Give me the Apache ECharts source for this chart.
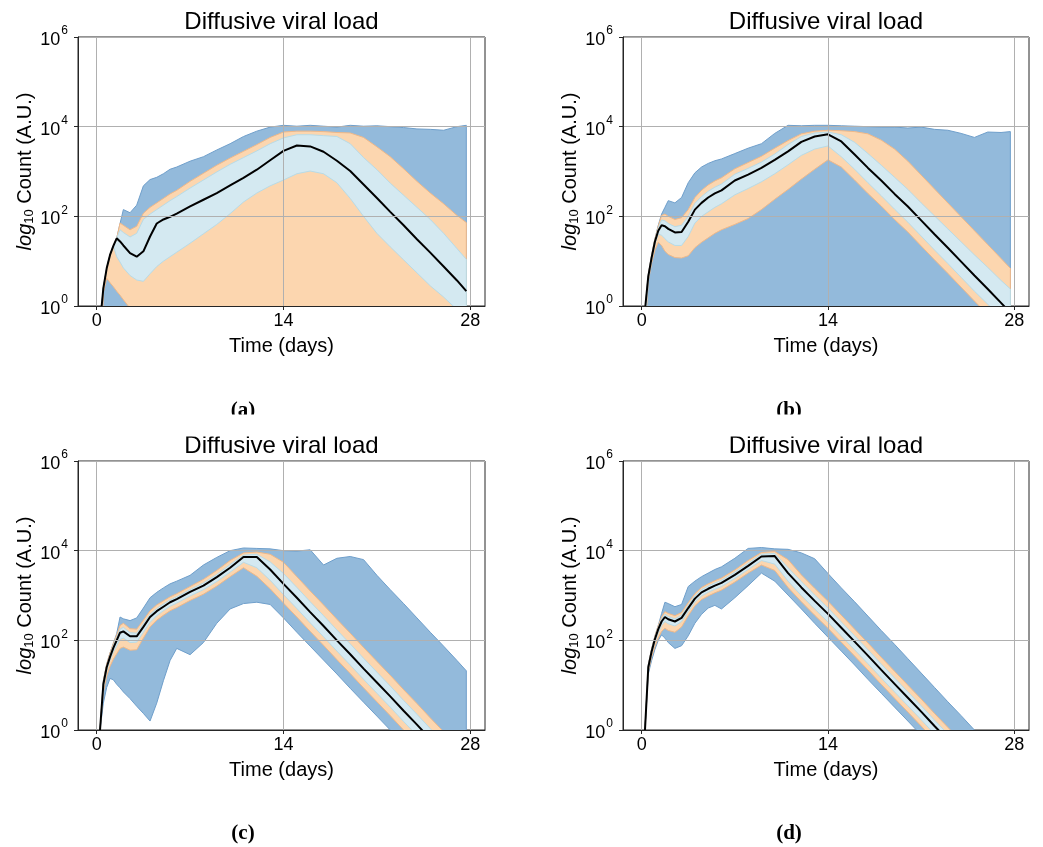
<!DOCTYPE html>
<html><head><meta charset="utf-8">
<script src="https://cdn.jsdelivr.net/npm/echarts@6/dist/echarts.min.js"></script>
<style>html,body{margin:0;padding:0;background:#fff}#c{width:1043px;height:847px}</style>
</head><body><div id="c"></div>
<script>
// ---- tick labels / texts ----
const xTicks = [0, 14, 28];
const yTicks = [0, 2, 4, 6];          // log10 exponents shown as 10^k
const titleText = 'Diffusive viral load';
const captions = ['(a)', '(b)', '(c)', '(d)'];

// ---- panel (a) : log10 counts ----
const daysA = [0.375,0.5,0.75,1,1.25,1.5,1.75,2,2.5,3,3.5,4,4.5,5,5.5,6,7,8,9,10,11,12,13,14,15,16,17,18,19,20,21,22,23,24,25,26,27,27.7];
const medA   = [0,0.40,0.84,1.14,1.34,1.51, 1.44,1.35,1.18,1.10,1.22,1.55,1.84,1.93,1.99,2.06, 2.22,2.37,2.52,2.69,2.86,3.04,3.25,3.46, 3.58,3.56,3.44,3.24,3.01,2.71,2.41,2.10, 1.80,1.49,1.19,0.88,0.57,0.33];
const blueLoA = [-1,-1,-1,-1,-1,-1, -1,-1,-1,-1,-1,-1,-1,-1,-1,-1, -1,-1,-1,-1,-1,-1,-1,-1, -1,-1,-1,-1,-1,-1,-1,-1, -1,-1,-1,-1,-1,-1];
const blueHiA = [0,0.40,0.84,1.14,1.34,1.51, 1.84,2.15,2.08,2.25,2.68,2.82,2.87,2.95,3.05,3.10, 3.23,3.33,3.48,3.62,3.78,3.90,3.99,4.03, 4.01,4.03,4.01,3.99,4.03,4.01,4.02,4.00, 3.98,3.95,3.94,3.92,4.00,4.03];
const orangeLoA = [-1,0.30,0.62,0.52,0.43,0.33, 0.24,0.14,-0.05,-0.25,-1,-1,-1,-1,-1,-1, -1,-1,-1,-1,-1,-1,-1,-1, -1,-1,-1,-1,-1,-1,-1,-1, -1,-1,-1,-1,-1,-1];
const orangeHiA = [0,0.40,0.84,1.14,1.34,1.51, 1.85,1.80,1.70,1.78,2.07,2.20,2.30,2.40,2.50,2.58, 2.78,2.96,3.14,3.30,3.45,3.60,3.76,3.88, 3.90,3.90,3.89,3.87,3.86,3.76,3.55,3.33, 3.06,2.78,2.52,2.28,2.02,1.86];
const lightLoA = [0,0.40,0.84,1.14,1.34,1.10, 0.98,0.85,0.68,0.58,0.55,0.72,0.88,1.00,1.10,1.20, 1.40,1.61,1.82,2.06,2.32,2.52,2.68,2.81, 2.95,3.01,2.95,2.75,2.40,2.00,1.62,1.32, 1.03,0.74,0.45,0.20,-0.08,-0.28];
const lightHiA = [0,0.40,0.84,1.14,1.34,1.51, 1.70,1.64,1.54,1.62,1.93,2.05,2.15,2.25,2.35,2.44, 2.63,2.81,2.99,3.16,3.31,3.46,3.62,3.75, 3.82,3.82,3.80,3.78,3.62,3.31,3.04,2.74, 2.47,2.20,1.93,1.62,1.28,1.04];

// ---- panel (b) ----
const daysB = [0.28,0.5,0.75,1,1.25,1.5,1.75,2,2.5,3,3.5,4,4.5,5,5.5,6,7,8,9,10,11,12,13,14,15,16,17,18,19,20,21,22,23,24,25,26,27,27.7];
const medB   = [0,0.66,1.08,1.44,1.68,1.80, 1.78,1.72,1.64,1.65,1.88,2.15,2.30,2.42,2.51,2.58, 2.80,2.93,3.08,3.26,3.45,3.66,3.78,3.83, 3.67,3.38,3.08,2.80,2.50,2.22,1.91,1.60, 1.30,0.99,0.68,0.38,0.07,-0.15];
const blueLoB = [-1,-1,-1,-1,-1,-1, -1,-1,-1,-1,-1,-1,-1,-1,-1,-1, -1,-1,-1,-1,-1,-1,-1,-1, -1,-1,-1,-1,-1,-1,-1,-1, -1,-1,-1,-1,-1,-1];
const blueHiB = [0,0.70,1.13,1.50,1.80,2.05, 2.20,2.35,2.30,2.42,2.75,2.97,3.10,3.18,3.24,3.28, 3.40,3.52,3.62,3.85,4.03,4.02,4.03,4.03, 4.02,4.01,4.00,3.99,3.99,3.97,3.99,3.94, 3.92,3.85,3.76,3.88,3.87,3.89];
const orangeLoB = [-0.5,0.55,0.95,1.25,1.42,1.35, 1.22,1.15,1.08,1.07,1.12,1.30,1.42,1.52,1.62,1.70, 1.82,1.95,2.15,2.38,2.60,2.83,3.05,3.26, 3.10,2.81,2.51,2.23,1.93,1.65,1.34,1.03, 0.73,0.42,0.11,-0.19,-0.50,-0.72];
const orangeHiB = [0,0.70,1.13,1.50,1.78,2.02, 2.05,2.00,1.93,1.97,2.15,2.42,2.58,2.70,2.79,2.86, 3.06,3.20,3.34,3.52,3.69,3.84,3.90,3.92, 3.91,3.89,3.84,3.70,3.50,3.23,2.92,2.61, 2.30,1.99,1.68,1.37,1.06,0.84];
const lightLoB = [-0.3,0.60,1.02,1.38,1.60,1.58, 1.50,1.43,1.35,1.35,1.55,1.85,2.00,2.10,2.20,2.28, 2.48,2.62,2.77,2.95,3.15,3.36,3.50,3.57, 3.33,3.05,2.75,2.46,2.16,1.87,1.56,1.25, 0.95,0.64,0.33,0.04,-0.25,-0.47];
const lightHiB = [0,0.68,1.10,1.47,1.73,1.92, 1.90,1.84,1.77,1.80,2.00,2.29,2.44,2.56,2.65,2.72, 2.94,3.07,3.21,3.39,3.60,3.78,3.86,3.88, 3.82,3.65,3.40,3.14,2.87,2.60,2.30,2.01, 1.72,1.43,1.14,0.86,0.57,0.38];

// ---- panel (c) ----
const daysC = [0.25,0.5,0.75,1,1.25,1.5,1.75,2,2.5,3,3.5,4,4.5,5,5.5,6,7,8,9,10,11,12,13,14,15,16,17,18,19,20,21,22,23,24,25,26,27,27.7];
const medC   = [0,1.02,1.40,1.63,1.83,2.00, 2.17,2.20,2.09,2.09,2.30,2.52,2.65,2.75,2.85,2.92, 3.08,3.22,3.41,3.62,3.86,3.86,3.58,3.26, 2.95,2.63,2.32,2.00,1.69,1.37,1.06,0.75, 0.43,0.12,-0.20,-0.51,-0.82,-1.04];
const blueLoC = [0,0.60,0.95,1.15,1.12,1.02, 0.94,0.85,0.70,0.53,0.37,0.20,0.60,1.10,1.55,1.82, 1.68,1.95,2.38,2.70,2.82,2.85,2.80,2.50, 2.18,1.87,1.56,1.25,0.93,0.62,0.31,0.00, -0.31,-0.62,-0.93,-1.24,-1.55,-1.77];
const blueHiC = [0,1.10,1.47,1.72,1.93,2.15, 2.52,2.48,2.44,2.50,2.72,2.95,3.07,3.17,3.26,3.32, 3.45,3.68,3.85,4.00,4.06,4.05,4.04,4.00, 3.99,4.02,3.68,3.83,3.87,3.80,3.45,3.13, 2.82,2.50,2.18,1.87,1.55,1.32];
const orangeLoC = [0,0.85,1.20,1.42,1.58,1.70, 1.82,1.85,1.78,1.79,2.05,2.30,2.45,2.56,2.66,2.73, 2.89,3.03,3.21,3.42,3.62,3.43,3.15,2.83, 2.52,2.20,1.89,1.57,1.26,0.94,0.63,0.32, 0.00,-0.31,-0.63,-0.94,-1.25,-1.47];
const orangeHiC = [0,1.10,1.47,1.72,1.93,2.12, 2.33,2.38,2.26,2.25,2.45,2.66,2.79,2.88,2.97,3.04, 3.20,3.36,3.56,3.78,3.95,3.97,3.92,3.74, 3.42,3.10,2.79,2.47,2.16,1.84,1.53,1.22, 0.90,0.59,0.27,-0.04,-0.35,-0.57];
const lightLoC = [0,0.95,1.32,1.56,1.74,1.88, 2.02,2.05,1.95,1.96,2.18,2.40,2.55,2.66,2.76,2.83, 2.99,3.13,3.31,3.52,3.74,3.62,3.34,3.02, 2.71,2.39,2.08,1.76,1.45,1.13,0.82,0.51, 0.19,-0.12,-0.44,-0.75,-1.06,-1.28];
const lightHiC = [0,1.05,1.42,1.67,1.88,2.06, 2.25,2.29,2.17,2.16,2.37,2.58,2.71,2.81,2.90,2.97, 3.13,3.28,3.47,3.69,3.90,3.92,3.75,3.49, 3.18,2.86,2.55,2.23,1.92,1.60,1.29,0.98, 0.66,0.35,0.03,-0.28,-0.59,-0.81];

// ---- panel (d) ----
const daysD = [0.25,0.5,0.75,1,1.25,1.5,1.75,2,2.5,3,3.5,4,4.5,5,5.5,6,7,8,9,10,11,12,13,14,15,16,17,18,19,20,21,22,23,24,25,26,27,27.7];
const medD   = [0,1.40,1.75,2.03,2.25,2.42, 2.52,2.47,2.42,2.50,2.72,2.93,3.07,3.15,3.22,3.28, 3.46,3.66,3.87,3.88,3.50,3.18,2.88,2.59, 2.28,1.97,1.66,1.34,1.03,0.72,0.41,0.09, -0.22,-0.53,-0.85,-1.16,-1.47,-1.69];
const blueLoD = [0,1.25,1.55,1.80,2.00,2.12, 2.05,1.95,1.82,1.88,2.10,2.38,2.58,2.72,2.78,2.70, 2.95,3.22,3.50,3.32,3.01,2.70,2.38,2.07, 1.76,1.45,1.13,0.82,0.51,0.20,-0.11,-0.42, -0.73,-1.05,-1.36,-1.67,-1.98,-2.20];
const blueHiD = [0,1.45,1.81,2.10,2.33,2.60, 2.85,2.82,2.75,2.80,3.20,3.32,3.42,3.50,3.58,3.64, 3.83,4.05,4.07,4.04,4.03,3.95,3.82,3.49, 3.17,2.86,2.54,2.22,1.91,1.59,1.27,0.95, 0.63,0.32,0.00,-0.31,-0.63,-0.85];
const orangeLoD = [0,1.30,1.63,1.86,2.05,2.20, 2.27,2.22,2.18,2.30,2.55,2.77,2.91,2.99,3.06,3.12, 3.30,3.50,3.68,3.56,3.18,2.86,2.56,2.27, 1.96,1.65,1.34,1.02,0.71,0.40,0.09,-0.23, -0.54,-0.85,-1.17,-1.48,-1.79,-2.01];
const orangeHiD = [0,1.45,1.81,2.10,2.33,2.52, 2.64,2.60,2.55,2.62,2.84,3.04,3.18,3.26,3.33,3.39, 3.57,3.78,3.96,3.98,3.80,3.46,3.16,2.87, 2.56,2.25,1.94,1.62,1.31,1.00,0.69,0.37, 0.06,-0.25,-0.57,-0.88,-1.19,-1.41];
const lightLoD = [0,1.35,1.70,1.96,2.17,2.33, 2.42,2.37,2.32,2.42,2.64,2.85,2.99,3.07,3.14,3.20, 3.38,3.58,3.78,3.70,3.32,3.00,2.70,2.41, 2.10,1.79,1.48,1.16,0.85,0.54,0.23,-0.09, -0.40,-0.71,-1.03,-1.34,-1.65,-1.87];
const lightHiD = [0,1.42,1.78,2.07,2.29,2.47, 2.58,2.53,2.48,2.56,2.78,2.99,3.13,3.21,3.28,3.34, 3.52,3.72,3.92,3.94,3.62,3.31,3.01,2.72, 2.41,2.10,1.79,1.47,1.16,0.85,0.54,0.22, -0.09,-0.40,-0.72,-1.03,-1.34,-1.56];

// ---- build ----
const F = '"Liberation Sans", Arial, Helvetica, sans-serif';
const C = {
  blue: '#93badb', blueEdge: '#6f9fcb',
  orange: '#fcd6af', orangeEdge: '#f0b888',
  light: '#d4e9f1', lightEdge: '#b8dbe7',
  grid: '#b0b0b0', axis: '#262626'
};
const panels = [
  {days: daysA, med: medA, bl: blueLoA, bh: blueHiA, ol: orangeLoA, oh: orangeHiA, ll: lightLoA, lh: lightHiA},
  {days: daysB, med: medB, bl: blueLoB, bh: blueHiB, ol: orangeLoB, oh: orangeHiB, ll: lightLoB, lh: lightHiB},
  {days: daysC, med: medC, bl: blueLoC, bh: blueHiC, ol: orangeLoC, oh: orangeHiC, ll: lightLoC, lh: lightHiC},
  {days: daysD, med: medD, bl: blueLoD, bh: blueHiD, ol: orangeLoD, oh: orangeHiD, ll: lightLoD, lh: lightHiD}
];
const boxes = [
  {left: 78, top: 37, width: 407, height: 269},
  {left: 623, top: 37, width: 406, height: 269},
  {left: 78, top: 461, width: 407, height: 269},
  {left: 623, top: 461, width: 406, height: 269}
];

const grids = [], xAxes = [], yAxes = [], series = [], graphics = [];

// a band between lo and hi, drawn as a polygon through the axis scales (api.coord)
function band(i, days, lo, hi, fill, edge) {
  series.push({
    type: 'custom', xAxisIndex: i, yAxisIndex: i, silent: true, clip: true, z: 2,
    data: [[days[0], hi[0]]],
    renderItem: function (params, api) {
      const pts = [];
      for (let k = 0; k < days.length; k++) pts.push(api.coord([days[k], hi[k]]));
      for (let k = days.length - 1; k >= 0; k--) pts.push(api.coord([days[k], lo[k]]));
      const cs = params.coordSys;
      return {
        type: 'polygon',
        shape: {points: pts},
        style: {fill: fill, stroke: edge, lineWidth: 1},
        clipPath: {type: 'rect', shape: {x: cs.x, y: cs.y, width: cs.width, height: cs.height}}
      };
    }
  });
}

panels.forEach((p, i) => {
  const b = boxes[i];
  grids.push(Object.assign({show: true, borderColor: C.axis, borderWidth: 1, backgroundColor: 'transparent', containLabel: false}, b));
  xAxes.push({
    type: 'value', gridIndex: i, min: -1.4, max: 29.1, z: 10,
    axisLine: {show: true, onZero: false, lineStyle: {color: C.axis, width: 1}},
    axisTick: {show: true, length: 4, customValues: xTicks, lineStyle: {color: C.axis}},
    axisLabel: {customValues: xTicks, fontSize: 18, color: '#000', margin: 6, lineHeight: 18, fontFamily: F},
    splitLine: {show: true, lineStyle: {color: C.grid, width: 1}},
    name: 'Time (days)', nameLocation: 'middle', nameGap: 30,
    nameTextStyle: {fontSize: 20, color: '#000', fontFamily: F, lineHeight: 20}
  });
  yAxes.push({
    type: 'value', gridIndex: i, min: yTicks[0], max: yTicks[yTicks.length - 1], interval: 2, z: 10,
    axisLine: {show: true, onZero: false, lineStyle: {color: C.axis, width: 1}},
    axisTick: {show: true, length: 4, lineStyle: {color: C.axis}},
    axisLabel: {
      margin: 10, color: '#000',
      formatter: v => '{b|10}{e|' + v + '}',
      rich: {
        b: {fontSize: 18, fontFamily: F, color: '#000', padding: [6, 0, 0, 0]},
        e: {fontSize: 12, fontFamily: F, color: '#000', padding: [0, 0, 12, 1]}
      }
    },
    splitLine: {show: true, lineStyle: {color: C.grid, width: 1}},
    name: '{i|log}{s|10}{n| Count (A.U.)}', nameLocation: 'middle', nameRotate: 90, nameGap: 42,
    nameTextStyle: {
      fontSize: 20, color: '#000', fontFamily: F,
      rich: {
        i: {fontSize: 20, fontStyle: 'italic', fontFamily: F, color: '#000'},
        s: {fontSize: 13, fontFamily: F, color: '#000', padding: [9, 0, 0, 0]},
        n: {fontSize: 20, fontFamily: F, color: '#000'}
      }
    }
  });
  band(i, p.days, p.bl, p.bh, C.blue, C.blueEdge);
  band(i, p.days, p.ol, p.oh, C.orange, C.orangeEdge);
  band(i, p.days, p.ll, p.lh, C.light, C.lightEdge);
  series.push({
    type: 'line', xAxisIndex: i, yAxisIndex: i, symbol: 'none', silent: true, clip: true,
    data: p.days.map((d, k) => [d, p.med[k]]),
    lineStyle: {color: '#000', width: 2}, z: 3
  });
  graphics.push({
    type: 'text', x: b.left + b.width / 2, y: b.top - 14.5, z: 50,
    style: {text: titleText, font: '24px ' + F, fill: '#000', textAlign: 'center', textVerticalAlign: 'middle'}
  });
  const capX = i % 2 === 0 ? 243 : 789;
  const capY = i < 2 ? 411 : 834;
  graphics.push({
    type: 'text', x: capX, y: capY, z: 50,
    style: {text: captions[i], font: 'bold 21px "Liberation Serif", "DejaVu Serif", serif', fill: '#000', textAlign: 'center', textVerticalAlign: 'middle'}
  });
});
// the top-row captions are cut off in the original figure
graphics.push({type: 'rect', z: 60, shape: {x: 120, y: 414.5, width: 820, height: 22}, style: {fill: '#fff'}});

const chart = echarts.init(document.getElementById('c'), null, {renderer: 'canvas'});
chart.setOption({
  animation: false,
  backgroundColor: '#fff',
  grid: grids, xAxis: xAxes, yAxis: yAxes, series,
  graphic: {elements: graphics}
});
</script></body></html>
